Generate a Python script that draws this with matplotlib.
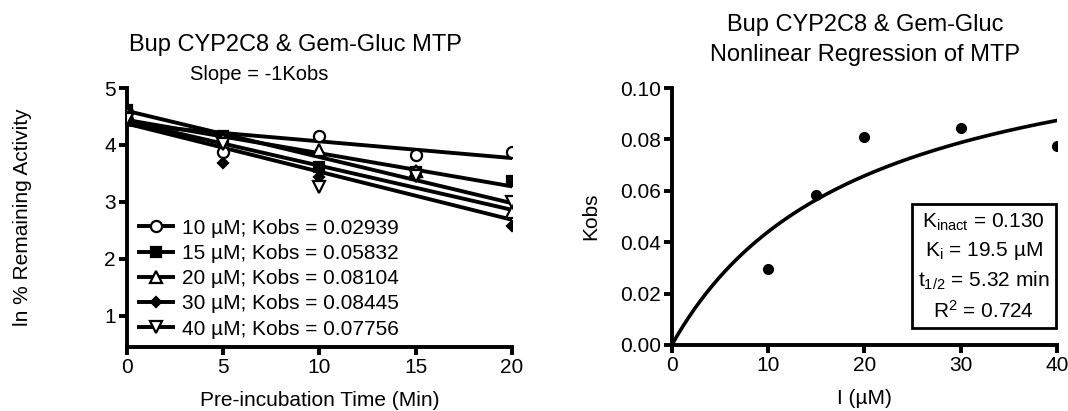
import numpy as np
import matplotlib
matplotlib.use("Agg")
import matplotlib.pyplot as plt

plt.rcParams['font.family'] = ['Liberation Sans', 'DejaVu Sans']
plt.rcParams['mathtext.fontset'] = 'custom'
plt.rcParams['mathtext.rm'] = 'Liberation Sans'
plt.rcParams['mathtext.it'] = 'Liberation Sans'

# pre-incubation data (ln % remaining activity)
times = [0, 5, 10, 15, 20]
concs = [10, 15, 20, 30, 40]
kobs = [0.02939, 0.05832, 0.08104, 0.08445, 0.07756]
ln_10 = [4.58, 3.88, 4.16, 3.82, 3.88]
ln_15 = [4.62, 4.15, 3.62, 3.52, 3.37]
ln_20 = [4.56, 4.10, 3.91, 3.55, 2.82]
ln_30 = [4.50, 3.68, 3.44, 3.45, 2.58]
ln_40 = [4.45, 4.02, 3.26, 3.45, 3.00]

# nonlinear regression parameters
kinact = 0.130
ki = 19.5

series = [ln_10, ln_15, ln_20, ln_30, ln_40]
markers = [('o', 'white', 8), ('s', 'black', 7), ('^', 'white', 9),
           ('D', 'black', 5), ('v', 'white', 9)]

fig = plt.figure(figsize=(10.68, 4.11), dpi=100)
ax1 = fig.add_axes([0.1189, 0.1557, 0.3605, 0.630])
ax2 = fig.add_axes([0.629, 0.1606, 0.3605, 0.625])

t = np.array(times, dtype=float)
for conc, k, y, (m, fc, ms) in zip(concs, kobs, series, markers):
    y = np.array(y)
    b = np.mean(y + k * t)
    ax1.plot(t, b - k * t, color='black', linewidth=2.8, zorder=2)
    ax1.plot(t, y, linestyle='none', marker=m, markerfacecolor=fc,
             markeredgecolor='black', markeredgewidth=1.6, markersize=ms, zorder=3)
    ax1.plot([], [], color='black', linewidth=2.8, marker=m, markerfacecolor=fc,
             markeredgecolor='black', markeredgewidth=1.6, markersize=ms,
             label="%d µM; Kobs = %.5f" % (conc, k))

ax1.set_xlim(0, 20)
ax1.set_ylim(0.45, 5)
ax1.set_xticks([0, 5, 10, 15, 20])
ax1.set_yticks([1, 2, 3, 4, 5])
ax1.set_xlabel("Pre-incubation Time (Min)", fontsize=15, labelpad=10)
ax1.set_ylabel("ln % Remaining Activity", fontsize=15, labelpad=52)
ax1.legend(loc='lower left', frameon=False, fontsize=15, handlelength=1.6,
           handletextpad=0.45, labelspacing=0.3, borderaxespad=0.0,
           bbox_to_anchor=(0.01, 0.0))

# right plot
ax2.plot(concs, kobs, linestyle='none', marker='o', color='black', markersize=7)
xs = np.linspace(0, 40, 200)
ax2.plot(xs, kinact * xs / (ki + xs), color='black', linewidth=2.6)
ax2.set_xlim(0, 40)
ax2.set_ylim(0, 0.10)
ax2.set_xticks([0, 10, 20, 30, 40])
ax2.set_yticks([0.00, 0.02, 0.04, 0.06, 0.08, 0.10])
ax2.set_yticklabels(["%.2f" % v for v in [0.00, 0.02, 0.04, 0.06, 0.08, 0.10]])
ax2.set_xlabel("I (µM)", fontsize=15, labelpad=10)
ax2.set_ylabel("Kobs", fontsize=15, labelpad=14)
ax2.text(0.81, 0.305,
         "K$_{\\mathrm{inact}}$ = 0.130\nK$_{\\mathrm{i}}$ = 19.5 µM\n"
         "t$_{1/2}$ = 5.32 min\nR$^{2}$ = 0.724",
         transform=ax2.transAxes, ha='center', va='center', multialignment='center',
         fontsize=15, linespacing=1.45,
         bbox=dict(boxstyle='square,pad=0.3', facecolor='white', edgecolor='black',
                   linewidth=2))

for ax in (ax1, ax2):
    ax.spines['top'].set_visible(False)
    ax.spines['right'].set_visible(False)
    ax.spines['left'].set_linewidth(2.8)
    ax.spines['bottom'].set_linewidth(2.8)
    ax.tick_params(direction='out', length=6, width=2.8, labelsize=15, pad=2)

fig.text(0.277, 0.89, "Bup CYP2C8 & Gem-Gluc MTP", fontsize=17, ha='center', va='center')
fig.text(0.243, 0.818, "Slope = -1Kobs", fontsize=14.5, ha='center', va='center')
fig.text(0.81, 0.94, "Bup CYP2C8 & Gem-Gluc", fontsize=17, ha='center', va='center')
fig.text(0.81, 0.865, "Nonlinear Regression of MTP", fontsize=17, ha='center', va='center')

fig.savefig("out.png", dpi=100)
